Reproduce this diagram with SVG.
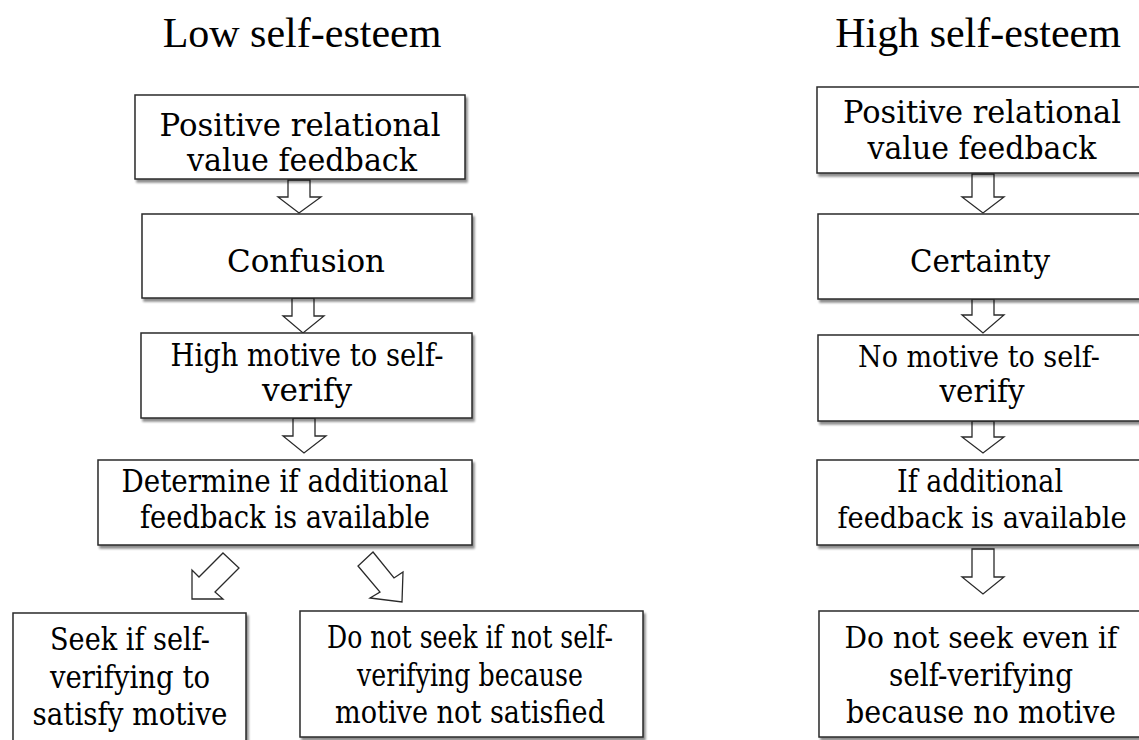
<svg xmlns="http://www.w3.org/2000/svg" width="1139" height="740" viewBox="0 0 1139 740">
<defs>
<filter id="sh" x="-5%" y="-5%" width="115%" height="120%">
<feGaussianBlur in="SourceAlpha" stdDeviation="1.2"/>
<feOffset dx="2" dy="2.5" result="b"/>
<feComponentTransfer><feFuncA type="linear" slope="0.45"/></feComponentTransfer>
<feMerge><feMergeNode/><feMergeNode in="SourceGraphic"/></feMerge>
</filter>
<style>
.box{fill:#fff;stroke:#2a2a2a;stroke-width:1.5;filter:url(#sh)}
.arr{fill:#fff;stroke:#2a2a2a;stroke-width:1.3;stroke-linejoin:miter}
.t{font-family:"DejaVu Serif","Liberation Serif",serif;font-size:32px;fill:#000;text-anchor:middle}
.tr{font-size:30px}
.title{font-family:"Liberation Serif","Times New Roman",serif;font-size:42px;fill:#000;text-anchor:middle}
</style>
</defs>
<rect width="1139" height="740" fill="#fff"/>
<text class="title" x="302" y="47">Low self-esteem</text>
<text class="title" x="978" y="47">High self-esteem</text>

<g id="connectors">
<polygon class="arr" points="288,180 310,180 310,197 321,197 299,213 278,197 288,197"/>
<polygon class="arr" points="292,298 314,298 314,316 324,316 303,333 283,316 292,316"/>
<polygon class="arr" points="293,418 315,418 315,436 326,436 304,453 283,436 293,436"/>
<polygon class="arr" points="223,553 239,568 215,592 223,599 192,599 192,570 199,577"/>
<polygon class="arr" points="373,552 394,578 403,572 402,602 370,598 380,592 358,566"/>
<polygon class="arr" points="972,174 994,174 994,197 1004,197 983,213 962,197 972,197"/>
<polygon class="arr" points="972,299 994,299 994,315 1004,315 983,333 962,315 972,315"/>
<polygon class="arr" points="972,421 994,421 994,437 1004,437 983,453 962,437 972,437"/>
<polygon class="arr" points="972,549 994,549 994,577 1004,577 983,594 962,577 972,577"/>
</g>

<g id="l1"><rect class="box" x="135" y="95" width="330" height="84"/>
<text class="t" x="300" y="136" textLength="281" lengthAdjust="spacingAndGlyphs">Positive relational</text><text class="t" x="302" y="171" textLength="230" lengthAdjust="spacingAndGlyphs">value feedback</text></g>
<g id="l2"><rect class="box" x="142" y="214" width="330" height="84"/>
<text class="t" x="306" y="272" textLength="158" lengthAdjust="spacingAndGlyphs">Confusion</text></g>
<g id="l3"><rect class="box" x="141" y="333" width="331" height="85"/>
<text class="t" x="307" y="366" textLength="273" lengthAdjust="spacingAndGlyphs">High motive to self-</text><text class="t" x="307" y="401" textLength="90" lengthAdjust="spacingAndGlyphs">verify</text></g>
<g id="l4"><rect class="box" x="98" y="460" width="374" height="85"/>
<text class="t" x="285" y="492" textLength="327" lengthAdjust="spacingAndGlyphs">Determine if additional</text><text class="t" x="285" y="528" textLength="290" lengthAdjust="spacingAndGlyphs">feedback is available</text></g>
<g id="l5"><rect class="box" x="13" y="613" width="233" height="140"/>
<text class="t" x="130" y="650" textLength="160" lengthAdjust="spacingAndGlyphs">Seek if self-</text><text class="t" x="130" y="688" textLength="160" lengthAdjust="spacingAndGlyphs">verifying to</text><text class="t" x="130" y="725" textLength="195" lengthAdjust="spacingAndGlyphs">satisfy motive</text></g>
<g id="l6"><rect class="box" x="300" y="611" width="343" height="126"/>
<text class="t" x="470" y="648" textLength="286" lengthAdjust="spacingAndGlyphs">Do not seek if not self-</text><text class="t" x="470" y="686" textLength="226" lengthAdjust="spacingAndGlyphs">verifying because</text><text class="t" x="470" y="723" textLength="270" lengthAdjust="spacingAndGlyphs">motive not satisfied</text></g>

<g id="r1"><rect class="box" x="817" y="87" width="330" height="86"/>
<text class="t" x="982" y="123" textLength="278" lengthAdjust="spacingAndGlyphs">Positive relational</text><text class="t" x="982" y="159" textLength="229" lengthAdjust="spacingAndGlyphs">value feedback</text></g>
<g id="r2"><rect class="box" x="818" y="214" width="330" height="85"/>
<text class="t" x="980" y="272" textLength="140" lengthAdjust="spacingAndGlyphs">Certainty</text></g>
<g id="r3"><rect class="box" x="818" y="335" width="330" height="86"/>
<text class="t tr" x="979" y="367" textLength="242" lengthAdjust="spacingAndGlyphs">No motive to self-</text><text class="t" x="982" y="402" textLength="85" lengthAdjust="spacingAndGlyphs">verify</text></g>
<g id="r4"><rect class="box" x="817" y="460" width="330" height="85"/>
<text class="t" x="980" y="492" textLength="166" lengthAdjust="spacingAndGlyphs">If additional</text><text class="t tr" x="982" y="528" textLength="289" lengthAdjust="spacingAndGlyphs">feedback is available</text></g>
<g id="r5"><rect class="box" x="819" y="611" width="330" height="126"/>
<text class="t tr" x="981" y="648" textLength="273" lengthAdjust="spacingAndGlyphs">Do not seek even if</text><text class="t" x="981" y="686" textLength="184" lengthAdjust="spacingAndGlyphs">self-verifying</text><text class="t" x="981" y="723" textLength="270" lengthAdjust="spacingAndGlyphs">because no motive</text></g>
</svg>
